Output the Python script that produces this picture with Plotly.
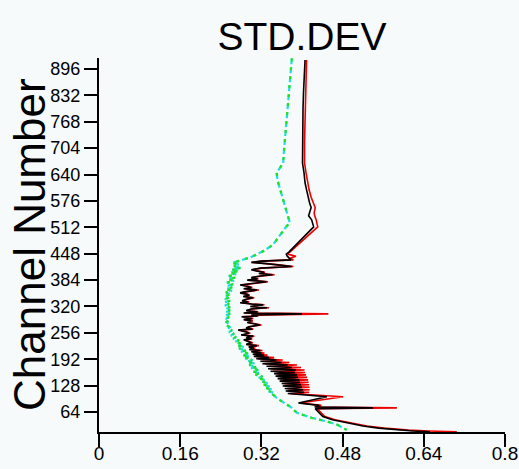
import plotly.graph_objects as go

# ---- data ----
main_channels = [918, 880, 840, 800, 760, 720, 690, 668, 644, 620, 603, 585, 571, 560, 547, 540, 530, 518, 513,
                 452, 447, 442, 437,
                 433, 430, 427, 424, 421, 417, 413, 409, 406, 403, 400, 397, 394, 390, 387, 384, 380, 376, 372, 369,
                 366, 363, 360, 356, 353, 350, 347, 344, 341, 337, 334, 331, 329, 326, 324, 320, 317, 314, 310, 307,
                 304, 302, 299, 297, 295, 291, 288, 285, 281, 278, 275, 271, 268, 265, 263, 259, 255, 251, 248, 244,
                 241, 239, 235, 232, 228,
                 225, 222, 219, 216, 213, 210, 207, 204,
                 202, 199, 196, 193, 190, 187, 184, 181,
                 178, 175, 172, 169, 166, 163, 160, 157, 154, 151, 148, 145, 142, 139, 136, 133, 130, 127, 124, 121,
                 118, 115, 112, 109, 106,
                 101, 86, 80, 76, 74, 72, 65, 53, 45, 37, 30, 25, 20, 18, 16]
black_std = [.406, .404, .403, .402, .402, .401, .401, .401, .404, .406, .409, .412, .415, .418, .414, .413, .419, .422, .423,
             .374, .369, .371, .374,
             .378, .320, .300, .330, .352, .380, .318, .300, .310, .325, .315, .342, .318, .300, .312, .292, .330, .300, .278, .292,
             .300, .285, .311, .290, .278, .290, .295, .284, .303, .288, .282, .294, .278, .300, .323, .298, .331, .300, .290, .312,
             .285, .400, .300, .312, .281, .302, .285, .300, .292, .305, .317, .295, .290, .302, .274, .288, .295, .280, .303, .290,
             .300, .285, .296, .300, .290,
             .311, .295, .305, .296, .318, .300, .320, .303,
             .325, .305, .335, .310, .350, .318, .360, .322,
             .372, .330, .380, .333, .388, .338, .386, .345, .390, .348, .392, .352, .395, .356, .396, .360, .398, .362, .400, .366,
             .402, .368, .404, .372, .404,
             .449, .393, .434, .425, .540, .426, .432, .441, .460, .489, .520, .551, .590, .619, .652]
red_std = [.409, .408, .407, .406, .406, .405, .405, .405, .408, .411, .414, .418, .422, .426, .424, .425, .428, .430, .431,
           .376, .372, .388, .376,
           .383, .322, .302, .332, .355, .383, .320, .302, .312, .327, .317, .346, .320, .302, .314, .294, .333, .302, .280, .294,
           .302, .287, .315, .292, .280, .292, .297, .286, .306, .290, .284, .296, .280, .302, .326, .300, .335, .302, .292, .314,
           .287, .452, .302, .314, .283, .304, .287, .303, .294, .308, .320, .297, .292, .304, .276, .290, .298, .282, .306, .292,
           .302, .287, .298, .303, .292,
           .315, .297, .308, .298, .322, .302, .326, .306,
           .332, .309, .345, .314, .362, .322, .375, .327,
           .390, .335, .398, .338, .405, .343, .406, .350, .408, .353, .410, .357, .412, .361, .413, .365, .414, .367, .415, .371,
           .415, .373, .414, .377, .412,
           .481, .396, .438, .428, .587, .430, .435, .445, .465, .495, .528, .562, .610, .650, .705]

green_channels = [922, 880, 840, 800, 760, 720, 690, 668, 655, 644, 625, 600, 580, 560, 540, 523, 512, 505, 490, 470,
                  455, 440,
                  430, 426, 422, 418, 414, 410, 406, 402, 398, 394, 390, 386, 382, 378, 374, 370, 366, 362, 358, 354,
                  350, 346, 342, 338, 334, 330, 326, 322, 318, 314, 310, 306, 302, 298, 294, 290, 286, 282, 278, 274,
                  270, 266, 262, 258, 254, 250, 246, 242, 238, 234, 230, 226, 222, 218, 214, 210, 206, 202, 198, 194,
                  190, 186, 182, 178, 174, 170, 166, 162, 158, 154, 150, 146, 142, 138, 134, 130, 126, 122, 118, 114,
                  110, 106,
                  96, 86, 76, 62, 50, 41, 33, 25, 21]
green_std = [.380, .377, .374, .371, .368, .366, .364, .363, .355, .350, .352, .358, .363, .368, .373, .376, .368, .364, .356, .343,
             .325, .300,
             .275, .262, .275, .266, .280, .262, .276, .258, .270, .256, .268, .254, .266, .252, .264, .254, .262, .250, .262, .250,
             .260, .250, .258, .248, .258, .248, .256, .248, .258, .250, .258, .250, .258, .249, .256, .250, .256, .250, .256, .252,
             .258, .254, .262, .256, .266, .260, .270, .264, .276, .268, .280, .272, .285, .276, .290, .280, .294, .284, .298, .288,
             .302, .292, .306, .296, .310, .300, .314, .304, .318, .308, .322, .313, .326, .320, .332, .325, .336, .330, .342, .335,
             .346, .343,
             .352, .366, .378, .390, .419, .449, .470, .481, .488]

x_ticks = [0, 0.16, 0.32, 0.48, 0.64, 0.8]
x_tick_text = ["0", "0.16", "0.32", "0.48", "0.64", "0.8"]
y_ticks = [64, 128, 192, 256, 320, 384, 448, 512, 576, 640, 704, 768, 832, 896]

bg = "#f6fafa"
font_family = "Liberation Sans, Arial, sans-serif"

fig = go.Figure()
fig.add_trace(go.Scatter(x=green_std, y=green_channels, mode="lines",
                         line=dict(color="#22dddd", width=2.2, dash="6px,3px")))
fig.add_trace(go.Scatter(x=green_std, y=green_channels, mode="lines",
                         line=dict(color="#22e022", width=2.2, dash="3px,6px")))
fig.add_trace(go.Scatter(x=red_std, y=main_channels, mode="lines",
                         line=dict(color="#ee0000", width=1.6)))
fig.add_trace(go.Scatter(x=black_std, y=main_channels, mode="lines",
                         line=dict(color="#000000", width=1.6)))

fig.update_layout(
    width=519, height=469,
    margin=dict(l=99, r=14, t=58, b=37, autoexpand=False),
    paper_bgcolor=bg, plot_bgcolor=bg,
    showlegend=False,
    font=dict(family=font_family, color="black"),
    title=dict(text="STD.DEV", x=0.5, xref="paper", xanchor="center",
               y=1 - 36 / 469, yref="container", yanchor="middle",
               font=dict(size=39, family=font_family, color="black")),
    xaxis=dict(range=[0, 0.8], tickvals=x_ticks, ticktext=x_tick_text, automargin=False,
               ticks="outside", ticklen=13, tickwidth=2, tickcolor="black",
               ticklabelstandoff=-10,
               showline=True, linewidth=2, linecolor="black",
               showgrid=False, zeroline=False,
               tickfont=dict(size=19, family=font_family, color="black")),
    yaxis=dict(range=[15.5, 922.7], tickvals=y_ticks, automargin=False,
               ticks="outside", ticklen=13, tickwidth=2, tickcolor="black",
               showline=True, linewidth=2, linecolor="black",
               showgrid=False, zeroline=False,
               tickfont=dict(size=18, family=font_family, color="black")),
    annotations=[dict(text="Channel Number", textangle=-90, xref="paper", yref="paper",
                      x=-70 / 406, y=0.5, xanchor="center", yanchor="middle", showarrow=False,
                      font=dict(size=44, family=font_family, color="black"))],
)

fig.write_html("out.html")
